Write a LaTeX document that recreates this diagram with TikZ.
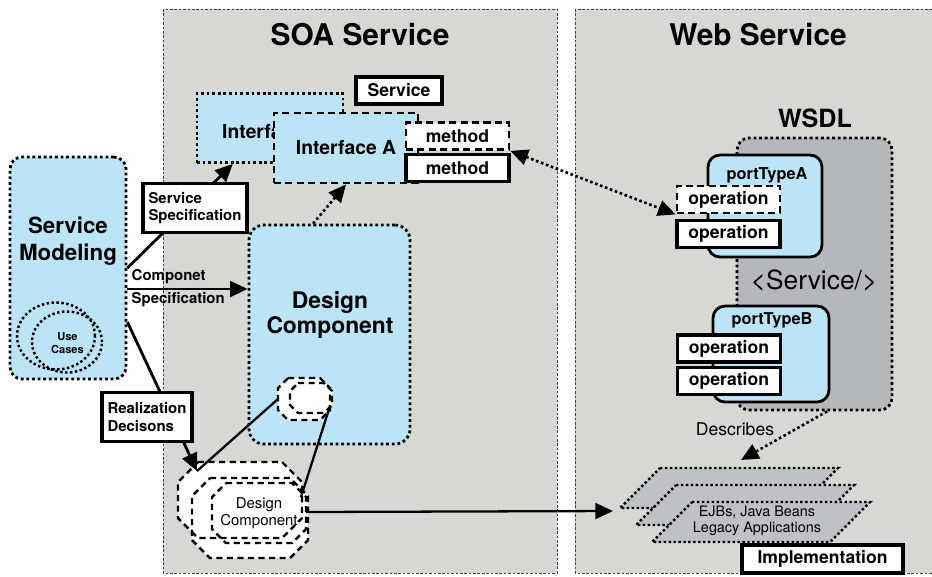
\documentclass[tikz,border=0pt]{standalone}
\usepackage{fontspec}
\setmainfont{TeX Gyre Heros}
\usepackage{tikz}
\usetikzlibrary{positioning,arrows.meta,calc,shapes.geometric}

\definecolor{panelgray}{RGB}{214,217,211}
\definecolor{ltblue}{RGB}{187,228,247}
\definecolor{wsdlgray}{RGB}{180,183,188}
\definecolor{stackgray}{RGB}{190,194,198}

\tikzset{
  >={Triangle[length=10pt,width=9pt]},
  panel/.style={fill=panelgray, draw=black!75, line width=0.5pt, dash pattern=on 1.5pt off 1pt},
  title/.style={font=\bfseries\fontsize{17}{20}\selectfont},
  dotbox/.style={draw, line width=1.6pt, dash pattern=on 1.6pt off 1.6pt, inner sep=0pt},
  dashbox/.style={draw, line width=1.6pt, dash pattern=on 4pt off 2.5pt, inner sep=0pt},
  tagbox/.style={draw, line width=1.8pt, fill=white, inner sep=0pt, font=\bfseries\fontsize{10}{12}\selectfont},
  opbox/.style={tagbox, minimum width=2.06cm, minimum height=0.54cm},
  smallbold/.style={font=\bfseries\fontsize{8.5}{9.8}\selectfont, align=left},
  ptbox/.style={draw, line width=1.6pt, fill=ltblue, rounded corners=0.24cm, inner sep=0pt},
  ptfont/.style={font=\bfseries\fontsize{9.3}{11}\selectfont},
  ucline/.style={draw, ellipse, line width=1.4pt, dash pattern=on 1.4pt off 1.4pt, inner sep=0pt},
  arr/.style={->, line width=1.6pt},
  dotarr/.style={->, line width=1.5pt, dash pattern=on 1.5pt off 1.5pt},
  thinline/.style={line width=1.3pt},
  octline/.style={draw, line width=1.4pt, dash pattern=on 3.5pt off 2.5pt},
  stackbox/.style={fill=stackgray, draw, line width=1.4pt, dash pattern=on 1.4pt off 1.4pt},
}

% octagon: options, centre x, centre y, half width, half height, cut
\newcommand{\octo}[6]{\path[#1] (#2-#4+#6,#3-#5) -- (#2+#4-#6,#3-#5) -- (#2+#4,#3-#5+#6)
  -- (#2+#4,#3+#5-#6) -- (#2+#4-#6,#3+#5) -- (#2-#4+#6,#3+#5) -- (#2-#4,#3+#5-#6)
  -- (#2-#4,#3-#5+#6) -- cycle;}

\begin{document}
\begin{tikzpicture}[x=0.02cm,y=-0.02cm]
\useasboundingbox (0,0) rectangle (932,576);

% panels
\draw[panel] (163,9) rectangle (557,573);
\draw[panel] (575,9) rectangle (945,573);
\node[title] (soa) at (360,35) {SOA Service};
\node[title] (web) at (758,35) {Web Service};

% interfaces
\node[dotbox, fill=ltblue, minimum width=2.92cm, minimum height=1.38cm] (ib) at (270,128) {};
\node[font=\bfseries\fontsize{11}{13}\selectfont, anchor=west] (ibtext) at (216,132) {Interface};
\node[dashbox, fill=ltblue, minimum width=2.88cm, minimum height=1.4cm,
      font=\bfseries\fontsize{11}{13}\selectfont] (ia) at (346,148) {Interface A};
\node[opbox, dashbox] (m1) at (457.5,136) {method};
\node[opbox] (m2) at (457.5,168) {method};
\node[tagbox, minimum width=1.72cm, minimum height=0.54cm] (sv) at (399,90.5) {Service};

% design component
\node[dotbox, fill=ltblue, rounded corners=0.3cm, minimum width=3.22cm, minimum height=4.38cm] (dc) at (329.5,334.5) {};
\node[font=\bfseries\fontsize{13}{14.7}\selectfont, align=center] (dctext) at (330,315) {Design\\Component};
\draw[dotarr] ($(dc.north west)!0.4!(dc.north east)$) -- (ia.south);

\foreach \cx/\cy/\hw/\hh/\c in {304/399/26/21/10, 311/398/21/15/8}
  {\octo{fill=white}{\cx}{\cy}{\hw}{\hh}{\c}}
\foreach \cx/\cy/\hw/\hh/\c in {304/399/26/21/10, 311/398/21/15/8}
  {\octo{octline}{\cx}{\cy}{\hw}{\hh}{\c}}
\coordinate (sdcw) at (278,399);
\coordinate (sdce) at (330,406);

\foreach \cx/\cy/\hw/\hh/\c in {240/500/62/38/20, 250/518/58/40/18, 259/513/47/30/14}
  {\octo{fill=white}{\cx}{\cy}{\hw}{\hh}{\c}}
\foreach \cx/\cy/\hw/\hh/\c in {240/500/62/38/20, 250/518/58/40/18, 259/513/47/30/14}
  {\octo{octline}{\cx}{\cy}{\hw}{\hh}{\c}}
\coordinate (bdcnw) at (197,471);
\coordinate (bdcne) at (301,497);
\coordinate (bdce) at (306,512);
\node[font=\fontsize{8.5}{9.6}\selectfont, align=center] (bdctext) at (259,513) {Design\\Component};
\draw[thinline] (sdcw) -- (bdcnw);
\draw[thinline] (sdce) -- (bdcne);

% service modeling
\node[dotbox, fill=ltblue, rounded corners=0.24cm, minimum width=2.32cm, minimum height=4.44cm] (sm) at (68,268) {};
\node[font=\bfseries\fontsize{12.7}{15.3}\selectfont, align=center] (smtext) at (68,241) {Service\\Modeling};
\node[ucline, minimum width=1.56cm, minimum height=1.34cm] (uc1) at (56,336) {};
\node[ucline, minimum width=1.4cm, minimum height=1.22cm] (uc2) at (67,342) {};
\node[font=\bfseries\fontsize{6.3}{6.9}\selectfont, align=center] (uctext) at (67.5,343) {Use\\Cases};

\draw[arr] (sm.east) -- ($(ib.south west)!0.25!(ib.south east)$);
\coordinate (cs) at ($(sm.east)+(0,21)$);
\draw[arr] (cs) -- (cs -| dc.west);
\node[smallbold, anchor=west, inner sep=0pt] (cs1) at ($(cs)+(4,-12)$) {Componet};
\node[smallbold, anchor=west, inner sep=0pt] (cs2) at ($(cs)+(4,11)$) {Specification};
\draw[arr] ($(sm.east)+(0,54)$) -- (bdcnw);

\node[tagbox, smallbold, minimum width=2.08cm, minimum height=0.98cm] (ss) at (195,208) {Service\\Specification};
\node[tagbox, smallbold, minimum width=1.8cm, minimum height=0.98cm] (rd) at (147,417) {Realization\\Decisons};

% wsdl
\node[font=\bfseries\fontsize{14.3}{17}\selectfont] (wsdltext) at (815,118) {WSDL};
\node[dotbox, fill=wsdlgray, rounded corners=0.24cm, minimum width=3.1cm, minimum height=5.44cm] (ws) at (814.5,274) {};
\node[font=\fontsize{15}{18}\selectfont] (svc) at (814,281) {<Service/>};
\node[ptbox, minimum width=2.28cm, minimum height=2.04cm] (pta) at (765,206) {};
\node[ptfont] (ptatext) at (767,175) {portTypeA};
\node[opbox, dashbox] (op1) at (728.5,199.5) {operation};
\node[opbox] (op2) at (728.5,234) {operation};
\node[ptbox, minimum width=2.32cm, minimum height=1.92cm] (ptb) at (771,354) {};
\node[ptfont] (ptbtext) at (772,320) {portTypeB};
\node[opbox] (op3) at (729,348.5) {operation};
\node[opbox] (op4) at (729,381) {operation};

\draw[dotarr, <->] (m1.south east) -- (op1.south west);

% implementation stack
\foreach \i in {0,1,2}
  \draw[stackbox] (660+16*\i,468+17*\i) -- ++(178,0) -- ++(-40,40) -- ++(-178,0) -- cycle;
\node[font=\fontsize{8.2}{9}\selectfont, align=center] (stktext) at (757,521) {EJBs, Java Beans\\Legacy Applications};
\coordinate (stktop) at (741,460);
\coordinate (stkleft) at (613,511);
\node[font=\fontsize{10}{12}\selectfont] (desc) at (735,429) {Describes};
\draw[dotarr] ($(ws.south west)!0.58!(ws.south east)$) -- (stktop);
\node[tagbox, minimum width=3.22cm, minimum height=0.56cm] (imp) at (822.5,559) {Implementation};
\draw[->, line width=1.3pt] (bdce) -- (stkleft);

\end{tikzpicture}
\end{document}
